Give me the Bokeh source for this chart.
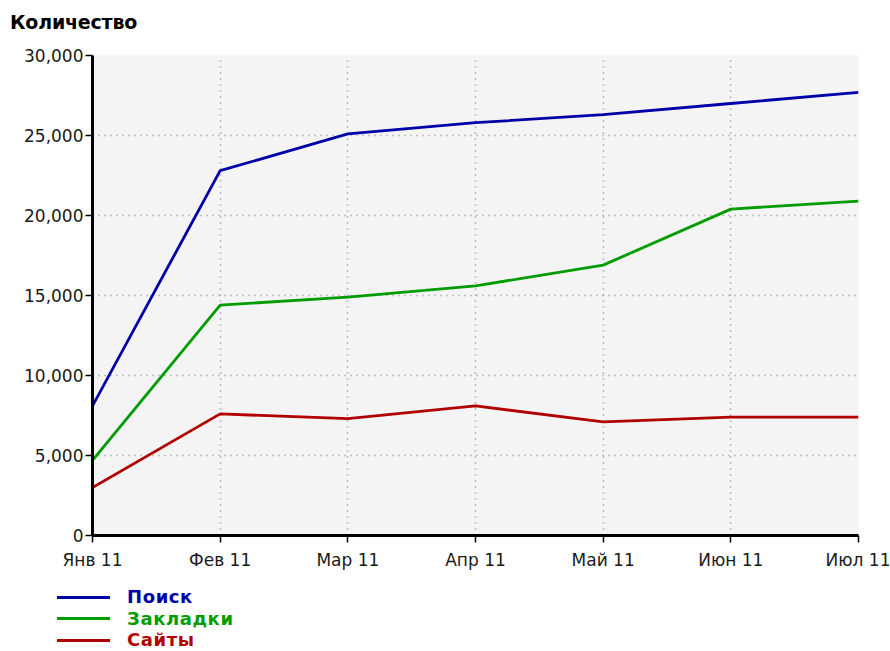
from bokeh.plotting import figure
from bokeh.layouts import column
from bokeh.models import Range1d, FixedTicker, NumeralTickFormatter, Div
from bokeh.embed import file_html
from bokeh.resources import INLINE

months = ["Янв 11", "Фев 11", "Мар 11", "Апр 11", "Май 11", "Июн 11", "Июл 11"]
poisk = [8100, 22800, 25100, 25800, 26300, 27000, 27700]
zakladki = [4700, 14400, 14900, 15600, 16900, 20400, 20900]
saity = [3000, 7600, 7300, 8100, 7100, 7400, 7400]
series_names = ["Поиск", "Закладки", "Сайты"]
y_ticks = [0, 5000, 10000, 15000, 20000, 25000, 30000]
y_title = "Количество"

colors = ["#0000a8", "#009c00", "#b00000"]
FONT = "DejaVu Sans"
W = 890

# header with axis title
head = Div(text=(f'<div style="position:relative;width:{W}px;height:45px;">'
                 f'<span style="position:absolute;left:10px;top:12px;line-height:20px;'
                 f'font-family:\'{FONT}\';font-size:19px;font-weight:bold;color:#000;'
                 f'letter-spacing:-0.2px;">{y_title}</span></div>'),
           width=W, height=45, margin=0)

# main chart
x = list(range(len(months)))
p = figure(width=W, height=530, output_backend="svg", toolbar_location=None,
           x_range=Range1d(0, len(months) - 1), y_range=Range1d(0, 30000),
           min_border_left=92, min_border_right=32, min_border_top=10, min_border_bottom=40)
p.background_fill_color = "#f4f4f4"
p.border_fill_color = "white"
p.outline_line_color = None

for ys, c in zip([poisk, zakladki, saity], colors):
    p.line(x, ys, line_color=c, line_width=2.8)

p.xaxis.ticker = FixedTicker(ticks=x)
p.xaxis.major_label_overrides = {i: m for i, m in enumerate(months)}
p.yaxis.ticker = FixedTicker(ticks=y_ticks)
p.yaxis.formatter = NumeralTickFormatter(format="0,0")
for ax in (p.xaxis, p.yaxis):
    ax.axis_line_color = "black"
    ax.axis_line_width = 3
    ax.major_tick_line_color = "black"
    ax.major_tick_line_width = 1.5
    ax.major_tick_out = 7
    ax.major_tick_in = 0
    ax.minor_tick_line_color = None
    ax.major_label_text_font = FONT
    ax.major_label_text_font_size = "17px"
    ax.major_label_text_color = "#1a1a1a"
p.yaxis.major_label_standoff = 2
p.xaxis.major_label_standoff = 7

for g in (p.xgrid, p.ygrid):
    g.grid_line_color = "#8a8a8a"
    g.grid_line_dash = "1 5"
    g.grid_line_width = 1.6

# legend
rows = []
for i, (name, c) in enumerate(zip(series_names, colors)):
    cy = 22 + 21.5 * i
    rows.append(f'<div style="position:absolute;left:57px;top:{cy - 1.5}px;width:53px;height:3px;'
                f'background:{c};"></div>')
    rows.append(f'<span style="position:absolute;left:127px;top:{cy - 10}px;line-height:20px;'
                f'font-family:\'{FONT}\';font-size:18px;font-weight:bold;color:{c};'
                f'letter-spacing:0.6px;">{name}</span>')
leg = Div(text=f'<div style="position:relative;width:{W}px;height:74px;">' + "".join(rows) + '</div>',
          width=W, height=74, margin=0)

layout = column(head, p, leg, spacing=0)
open("out.html", "w").write(file_html(layout, INLINE))
